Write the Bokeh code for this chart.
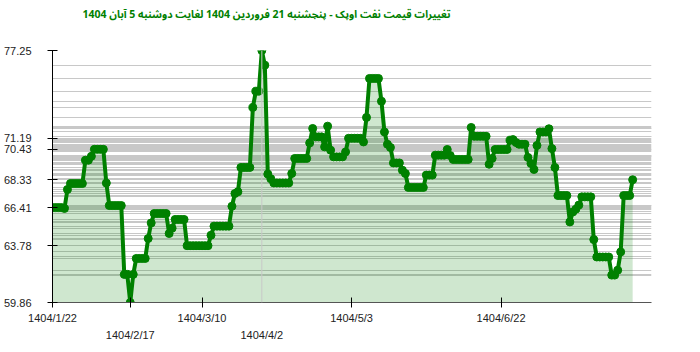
from bokeh.plotting import figure
from bokeh.models import (FixedTicker, LinearAxis, Span, Title, Range1d,
                          ColumnDataSource, PrintfTickFormatter)
from bokeh.embed import file_html
from bokeh.resources import INLINE

title_text = "تغییرات قیمت نفت اوپک - پنجشنبه  21 فروردین 1404 لغایت  دوشنبه  5 آبان 1404"

prices = [
    66.41, 66.41, 66.41, 66.41, 66.35, 67.66, 68.07, 68.07, 68.07, 68.07,
    68.07, 69.68, 69.68, 69.95, 70.43, 70.43, 70.43, 70.43, 68.10, 66.55,
    66.55, 66.55, 66.55, 66.55, 61.80, 61.80, 59.86, 61.80, 62.90, 62.90,
    62.90, 62.90, 64.28, 65.35, 66.00, 66.00, 66.00, 66.00, 66.00, 64.62,
    64.99, 65.59, 65.59, 65.59, 65.59, 63.78, 63.78, 63.78, 63.78, 63.78,
    63.78, 63.78, 63.78, 64.50, 65.13, 65.13, 65.13, 65.13, 65.13, 65.13,
    66.50, 67.38, 67.50, 69.18, 69.18, 69.18, 69.18, 73.32, 74.44, 74.44,
    77.25, 76.24, 68.72, 68.40, 68.11, 68.11, 68.11, 68.11, 68.11, 68.11,
    68.76, 69.80, 69.80, 69.80, 69.80, 69.80, 70.87, 71.87, 71.29, 71.29,
    71.29, 70.60, 72.03, 70.37, 69.91, 69.91, 69.91, 69.91, 70.25, 71.19,
    71.19, 71.19, 71.19, 71.19, 70.94, 72.63, 75.32, 75.32, 75.32, 75.32,
    73.75, 71.63, 70.78, 70.56, 69.49, 69.49, 69.49, 68.99, 68.76, 67.80,
    67.80, 67.80, 67.80, 67.80, 67.80, 68.65, 68.65, 68.65, 70.03, 70.03,
    70.03, 70.03, 70.42, 70.00, 69.73, 69.73, 69.73, 69.73, 69.73, 69.73,
    71.94, 71.33, 71.33, 71.33, 71.33, 71.33, 69.40, 69.80, 70.42, 70.42,
    70.42, 70.42, 70.42, 71.06, 71.10, 70.90, 70.78, 70.78, 70.78, 69.87,
    69.45, 69.04, 70.70, 71.63, 71.63, 71.63, 71.85, 70.48, 69.18, 67.24,
    67.24, 67.24, 67.24, 65.42, 66.11, 66.30, 66.58, 67.15, 67.15, 67.15,
    67.15, 64.20, 63.00, 63.00, 63.00, 63.00, 63.00, 61.75, 61.75, 62.09,
    63.35, 67.24, 67.24, 67.24, 68.33,
]

y_tick_values = [59.86, 63.78, 66.41, 68.33, 70.43, 71.19, 77.25]
x_tick_upper = [0, 50, 100, 150]
x_labels_upper = ["1404/1/22", "1404/3/10", "1404/5/3", "1404/6/22"]
x_tick_lower = [26, 70]
x_labels_lower = ["1404/2/17", "1404/4/2"]

x = list(range(len(prices)))
ymin, ymax = min(prices), max(prices)
imax = prices.index(ymax)

src = ColumnDataSource(dict(x=x, price=prices, base=[ymin] * len(prices)))

p = figure(width=700, height=352, output_backend="svg", toolbar_location=None,
           x_range=Range1d(0, 200.3), y_range=Range1d(ymin, ymax),
           min_border_left=50, min_border_right=49, min_border_top=50,
           min_border_bottom=50, background_fill_color="white",
           border_fill_color="white", outline_line_color=None)

# title (outermost) + spacer panel between title and frame
p.title.text = title_text
p.title.align = "left"
p.title.offset = 30
p.title.standoff = 0
p.title.vertical_align = "middle"
p.title.text_font = "Noto Sans Arabic, DejaVu Sans"
p.title.text_font_size = "10.5px"
p.title.text_font_style = "bold"
p.title.text_color = "#008000"
p.add_layout(Title(text=" ", text_font_size="20px", standoff=0), "above")

# grid
p.xgrid.visible = False
p.ygrid.ticker = FixedTicker(ticks=sorted(set(prices)))
p.ygrid.grid_line_color = "#c8c8c8"
p.ygrid.grid_line_width = 1

# y axis
ya = p.yaxis[0]
ya.ticker = FixedTicker(ticks=y_tick_values)
ya.formatter = PrintfTickFormatter(format="%.2f")
ya.major_tick_in = 5
ya.major_tick_out = 5
ya.minor_tick_line_color = None
ya.major_label_standoff = 16
ya.axis_line_color = "black"
ya.major_tick_line_color = "black"
ya.major_label_text_font = "Liberation Sans"
ya.major_label_text_font_size = "11px"
ya.major_label_text_color = "#222222"

# x axis (upper row of labels)
xa = p.xaxis[0]
ticks_main = sorted(x_tick_upper + [x_tick_lower[0]])
overrides = {t: "" for t in ticks_main}
overrides.update(dict(zip(x_tick_upper, x_labels_upper)))
xa.ticker = FixedTicker(ticks=ticks_main)
xa.major_label_overrides = overrides
xa.major_tick_in = 5
xa.major_tick_out = 5
xa.minor_tick_line_color = None
xa.major_label_standoff = 4
xa.axis_line_color = "#555555"
xa.major_tick_line_color = "black"
xa.major_label_text_font = "Liberation Sans"
xa.major_label_text_font_size = "11px"
xa.major_label_text_color = "#222222"

# x axis (lower row of labels)
xb = LinearAxis(ticker=FixedTicker(ticks=x_tick_lower),
                major_label_overrides=dict(zip(x_tick_lower, x_labels_lower)))
xb.axis_line_color = None
xb.major_tick_line_color = None
xb.minor_tick_line_color = None
xb.major_tick_in = 0
xb.major_tick_out = 0
xb.major_label_standoff = 2
xb.major_label_text_font = "Liberation Sans"
xb.major_label_text_font_size = "11px"
xb.major_label_text_color = "#222222"
p.add_layout(xb, "below")

# marker line at the maximum
p.add_layout(Span(location=x[imax], dimension="height", line_color="#c8c8c8", line_width=1))

# area, line, points
p.varea(x="x", y1="base", y2="price", source=src, fill_color="#008000", fill_alpha=0.19)
p.line(x="x", y="price", source=src, line_color="#008000", line_width=4)
p.scatter(x="x", y="price", source=src, size=8, fill_color="#008000", line_color="#008000")

open("out.html", "w").write(file_html(p, INLINE))
